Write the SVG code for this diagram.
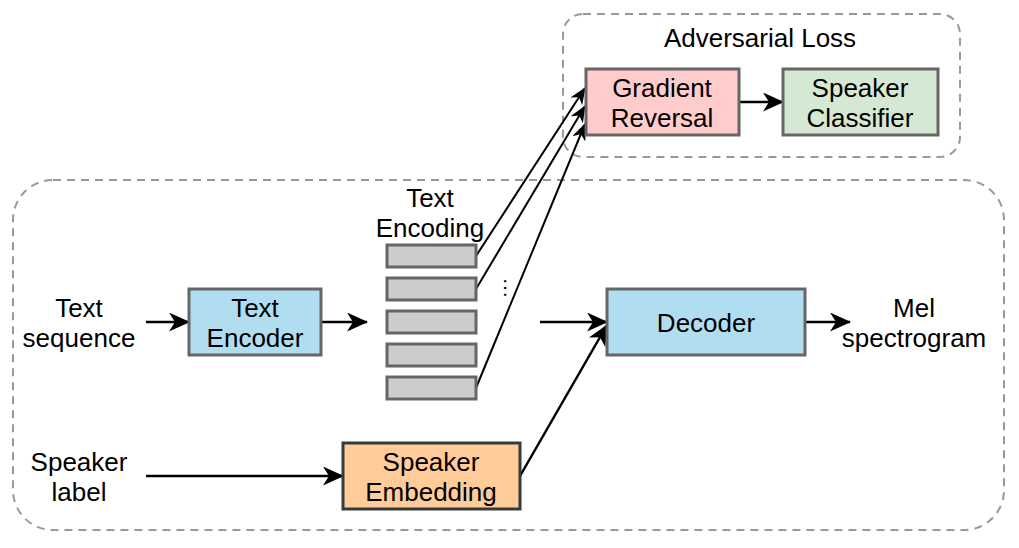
<svg xmlns="http://www.w3.org/2000/svg" width="1019" height="548" viewBox="0 0 1019 548">
<style>
  text { font-family: "Liberation Sans", Arial, sans-serif; font-size: 26px; fill: #000; text-anchor: middle; }
  .box { stroke: #666666; stroke-width: 3; }
  .bar { fill: #cccccc; stroke: #666666; stroke-width: 3; }
  .grp { fill: none; stroke: #999999; stroke-width: 2; stroke-dasharray: 8 6; }
  .conn { fill: none; stroke: #000; stroke-width: 2.5; }
  .thin { fill: none; stroke: #000; stroke-width: 2; }
</style>
<defs>
  <marker id="arr" viewBox="0 0 21 19" refX="20" refY="9.5" markerWidth="21" markerHeight="19" markerUnits="userSpaceOnUse" orient="auto">
    <path d="M0,0 L21,9.5 L0,19 L6,9.5 Z" fill="#000"/>
  </marker>
  <marker id="arrs" viewBox="0 0 17 14" refX="16" refY="7" markerWidth="17" markerHeight="14" markerUnits="userSpaceOnUse" orient="auto">
    <path d="M0,0 L17,7 L0,14 L5,7 Z" fill="#000"/>
  </marker>
</defs>
<rect width="1019" height="548" fill="#ffffff"/>
<g id="groups">
  <rect id="adv-group" class="grp" x="563" y="14" width="397" height="143" rx="20"/>
  <rect id="main-group" class="grp" x="13" y="180" width="991" height="350" rx="40"/>
</g>
<g id="labels">
  <text x="760" y="47">Adversarial Loss</text>
  <text x="430" y="207">Text</text>
  <text x="430" y="237">Encoding</text>
  <text x="79" y="317">Text</text>
  <text x="79" y="347">sequence</text>
  <text x="914" y="317">Mel</text>
  <text x="914" y="347">spectrogram</text>
  <text x="79" y="471">Speaker</text>
  <text x="79" y="501">label</text>
  <text x="0" y="0" style="font-size:21px" transform="translate(504,288) rotate(90)">…</text>
</g>
<g id="connectors">
  <line class="conn" x1="146" y1="322" x2="189" y2="322" marker-end="url(#arr)"/>
  <line class="conn" x1="321" y1="322" x2="367" y2="322" marker-end="url(#arr)"/>
  <line class="conn" x1="540" y1="322" x2="607" y2="322" marker-end="url(#arr)"/>
  <line class="conn" x1="520" y1="476" x2="607" y2="325" marker-end="url(#arr)"/>
  <line class="conn" x1="805" y1="322" x2="850" y2="322" marker-end="url(#arr)"/>
  <line class="conn" x1="146" y1="476" x2="343" y2="476" marker-end="url(#arr)"/>
  <line class="conn" x1="739" y1="102" x2="783" y2="102" marker-end="url(#arr)"/>
  <line class="thin" x1="476" y1="256" x2="585" y2="88" marker-end="url(#arrs)"/>
  <line class="thin" x1="476" y1="289" x2="585" y2="106" marker-end="url(#arrs)"/>
  <line class="thin" x1="476" y1="388" x2="585" y2="124" marker-end="url(#arrs)"/>
</g>
<g id="gradient-reversal">
  <rect class="box" x="586" y="69" width="153" height="66" fill="#ffcccc"/>
  <text x="662" y="97">Gradient</text>
  <text x="662" y="127">Reversal</text>
</g>
<g id="speaker-classifier">
  <rect class="box" x="783" y="69" width="155" height="66" fill="#d5e8d4"/>
  <text x="860" y="97">Speaker</text>
  <text x="860" y="127">Classifier</text>
</g>
<g id="text-encoder">
  <rect class="box" x="189" y="289" width="132" height="66" fill="#b1ddf0"/>
  <text x="255" y="317">Text</text>
  <text x="255" y="347">Encoder</text>
</g>
<g id="text-encoding">
  <rect class="bar" x="387" y="245" width="89" height="22"/>
  <rect class="bar" x="387" y="278" width="89" height="22"/>
  <rect class="bar" x="387" y="311" width="89" height="22"/>
  <rect class="bar" x="387" y="344" width="89" height="22"/>
  <rect class="bar" x="387" y="377" width="89" height="22"/>
</g>
<g id="decoder">
  <rect class="box" x="607" y="289" width="198" height="66" fill="#b1ddf0"/>
  <text x="706" y="332">Decoder</text>
</g>
<g id="speaker-embedding">
  <rect class="box" x="343" y="443" width="177" height="66" fill="#ffcc99" style="stroke:#36393d"/>
  <text x="431" y="471">Speaker</text>
  <text x="431" y="501">Embedding</text>
</g>
</svg>
